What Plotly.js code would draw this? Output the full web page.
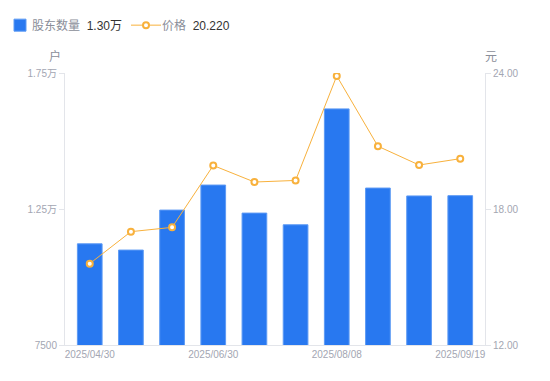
<!DOCTYPE html>
<html><head><meta charset="utf-8">
<script src="https://cdn.plot.ly/plotly-3.0.1.min.js"></script>
<style>html,body{margin:0;padding:0;background:#fff}#c{width:550px;height:381px}</style>
</head><body><div id="c"></div>
<script>
const dates = ['2025/04/30','2025/05/20','2025/06/10','2025/06/30','2025/07/10','2025/07/20','2025/08/08','2025/08/20','2025/08/31','2025/09/19'];
const holders = [11220, 10990, 12460, 13380, 12350, 11920, 16180, 13270, 12980, 12990];
const prices = [15.59, 17.00, 17.19, 19.92, 19.19, 19.26, 23.87, 20.77, 19.94, 20.22];
const xTicks = ['2025/04/30','2025/06/30','2025/08/08','2025/09/19'];
const leftTickVals = [7500, 12500, 17500];
const leftTickText = ['7500', '1.25万', '1.75万'];
const rightTickVals = [12, 18, 24];
const rightTickText = ['12.00', '18.00', '24.00'];
const seriesNames = ['股东数量', '价格'];
const latestText = ['1.30万', '20.220'];

const font = 'Liberation Sans, Arial, Noto Sans CJK SC, sans-serif';
const axisCol = '#e3e5ea';
const tickCol = '#a3a6b2';
const legendCol = '#8a8e99';

const traces = [
  {type:'bar', x:dates, y:holders, name:'',
   marker:{color:'#2878f0', line:{color:'#5d9af4', width:1}}, yaxis:'y', hoverinfo:'skip'},
  {type:'scatter', mode:'lines+markers', x:dates, y:prices, name:'',
   line:{color:'#f8b13c', width:1}, marker:{symbol:'circle', size:6, color:'#fff', line:{color:'#f8b13c', width:2}},
   yaxis:'y2', hoverinfo:'skip'}
];

const legendText = (i) => seriesNames[i] + '  <span style="color:#333">' + latestText[i] + '</span>';

const layout = {
  width:550, height:381,
  margin:{l:65, r:65, t:73, b:36, pad:0},
  paper_bgcolor:'#fff', plot_bgcolor:'#fff',
  font:{family:font, size:10, color:tickCol},
  bargap:0.4,
  showlegend:true,
  legend:{orientation:'h', xref:'container', yref:'container', x:0, xanchor:'left', y:0.934, yanchor:'middle',
    font:{family:font, size:12, color:legendCol}, itemwidth:30, entrywidth:81, traceorder:'normal'},
  xaxis:{type:'category', tickvals:xTicks, ticktext:xTicks, showgrid:false, zeroline:false,
    showline:true, linecolor:axisCol, linewidth:1, ticks:'', tickfont:{size:10, color:tickCol}, fixedrange:true},
  yaxis:{range:[7500,17500], tickvals:leftTickVals, ticktext:leftTickText, showgrid:false, zeroline:false,
    showline:true, linecolor:axisCol, linewidth:1, ticks:'outside', ticklen:5, tickcolor:axisCol,
    tickfont:{size:10, color:tickCol}, fixedrange:true},
  yaxis2:{range:[12,24], overlaying:'y', side:'right', tickvals:rightTickVals, ticktext:rightTickText,
    showgrid:false, zeroline:false, showline:true, linecolor:axisCol, linewidth:1, ticks:'outside', ticklen:5,
    tickcolor:axisCol, tickfont:{size:10, color:tickCol}, fixedrange:true},
  annotations:[
    {text:legendText(0), xref:'paper', yref:'paper', x:-0.0833, y:1.173, xanchor:'left', yanchor:'middle', showarrow:false,
     font:{size:12, color:legendCol}},
    {text:legendText(1), xref:'paper', yref:'paper', x:0.2262, y:1.173, xanchor:'left', yanchor:'middle', showarrow:false,
     font:{size:12, color:legendCol}},
    {text:'户', xref:'paper', yref:'paper', x:-0.005, y:1.06, xanchor:'right', yanchor:'middle', showarrow:false,
     font:{size:12, color:legendCol}},
    {text:'元', xref:'paper', yref:'paper', x:0.995, y:1.06, xanchor:'left', yanchor:'middle', showarrow:false,
     font:{size:12, color:legendCol}}
  ]
};
Plotly.newPlot('c', traces, layout, {displayModeBar:false, staticPlot:true});
</script></body></html>
